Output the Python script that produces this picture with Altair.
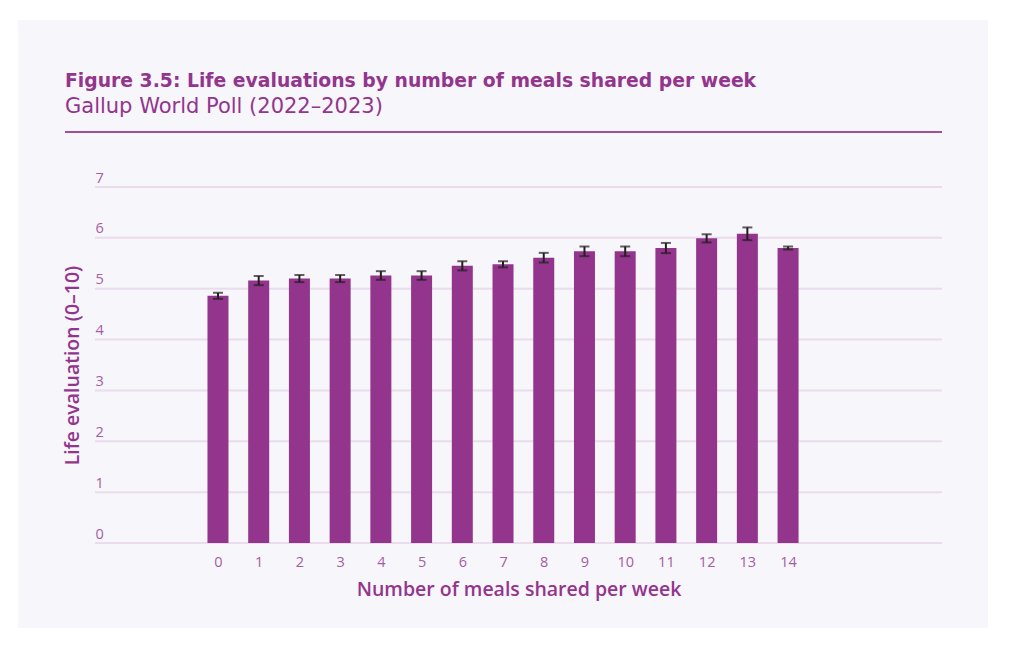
import altair as alt
import pandas as pd

meals = list(range(15))
life_eval = [4.86, 5.16, 5.20, 5.20, 5.26, 5.26, 5.45, 5.48, 5.61, 5.735, 5.735, 5.80, 5.99, 6.08, 5.80]
err_half = [0.06, 0.09, 0.07, 0.07, 0.085, 0.085, 0.09, 0.06, 0.095, 0.095, 0.095, 0.10, 0.08, 0.125, 0.03]
y_ticks = [0, 1, 2, 3, 4, 5, 6, 7]

TITLE = "Figure 3.5: Life evaluations by number of meals shared per week"
SUBTITLE = "Gallup World Poll (2022–2023)"
X_TITLE = "Number of meals shared per week"
Y_TITLE = "Life evaluation (0–10)"

FONT = "Open Sans"
TFONT = "DejaVu Sans"
PURPLE = "#93358d"
LABEL = "#a45ea3"
GRID = "#eadcec"
PANEL = "#f7f6fb"

W, H = 847, 356

df = pd.DataFrame({"meals": meals, "life": life_eval, "err": err_half})
df["lo"] = df["life"] - df["err"]
df["hi"] = df["life"] + df["err"]
grid_df = pd.DataFrame({"g": y_ticks})

xscale = alt.Scale(domain=[-3.02, 17.78], nice=False, zero=False, padding=0)
yscale = alt.Scale(domain=[0, 7], nice=False)

panel = alt.Chart(pd.DataFrame({"a": [0]})).mark_rect(color=PANEL).encode(
    x=alt.value(-77), x2=alt.value(893), y=alt.value(-167), y2=alt.value(441)
)

topline = alt.Chart(pd.DataFrame({"a": [0]})).mark_rule(color="#a44ea0", strokeWidth=2).encode(
    x=alt.value(-30), x2=alt.value(W), y=alt.value(-55)
)

grid = alt.Chart(grid_df).mark_rule(color=GRID, strokeWidth=2).encode(
    y=alt.Y("g:Q", scale=yscale,
            axis=alt.Axis(values=y_ticks, format="d", grid=False, domain=False, ticks=False,
                          tickSize=0, labelPadding=0, labelAlign="left", labelBaseline="alphabetic",
                          labelOffset=-5, labelColor=LABEL, labelFont=FONT, labelFontSize=14.5,
                          title=Y_TITLE, titleColor=PURPLE, titleFont=FONT, titleFontSize=19.5,
                          titleFontWeight=600, titleX=-23, titleBaseline="middle", zindex=2)),
    x=alt.value(0), x2=alt.value(W),
)

bars = alt.Chart(df).mark_bar(color=PURPLE, size=21).encode(
    x=alt.X("meals:Q", scale=xscale,
            axis=alt.Axis(values=meals, format="d", grid=False, domain=False, ticks=False,
                          tickSize=0, labelPadding=12, labelColor=LABEL, labelFont=FONT,
                          labelFontSize=14.5, title=X_TITLE, titleColor=PURPLE, titleFont=FONT,
                          titleFontSize=19.5, titleFontWeight=600, titlePadding=12, zindex=2)),
    y=alt.Y("life:Q", scale=yscale),
)

stems = alt.Chart(df).mark_rule(color="#231f20", strokeWidth=2).encode(
    x=alt.X("meals:Q", scale=xscale), y=alt.Y("lo:Q", scale=yscale), y2="hi:Q"
)
caps_lo = alt.Chart(df).mark_tick(color="#231f20", thickness=2, size=10, orient="horizontal").encode(
    x=alt.X("meals:Q", scale=xscale), y=alt.Y("lo:Q", scale=yscale)
)
caps_hi = alt.Chart(df).mark_tick(color="#231f20", thickness=2, size=10, orient="horizontal").encode(
    x=alt.X("meals:Q", scale=xscale), y=alt.Y("hi:Q", scale=yscale)
)

chart = alt.layer(panel, topline, grid, bars, stems, caps_lo, caps_hi).properties(
    width=W, height=H,
    autosize=alt.AutoSizeParams(type="none"),
    padding={"left": 87, "top": 179, "right": 50, "bottom": 85},
    background="white",
    title=alt.TitleParams(text=TITLE, subtitle=SUBTITLE, anchor="start", frame="group",
                          dx=-30, offset=-97, font=TFONT, fontSize=18.8, fontWeight="bold",
                          color=PURPLE, subtitleFont=TFONT, subtitleFontSize=21,
                          subtitleColor=PURPLE, subtitlePadding=5, zindex=2),
).configure_view(stroke=None)

chart.save("out.html", embed_options={"renderer": "svg", "actions": False})
